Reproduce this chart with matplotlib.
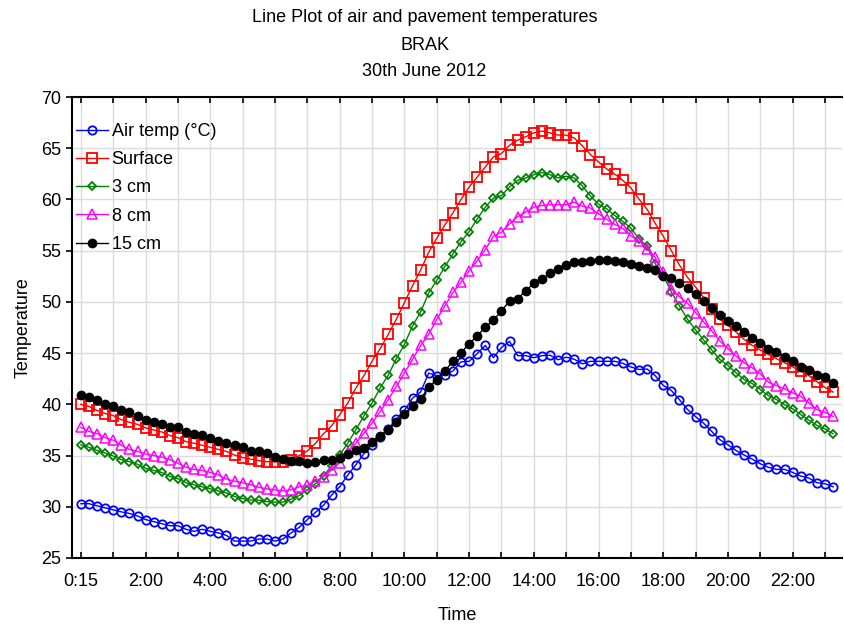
import numpy as np
import matplotlib
matplotlib.use("Agg")
import matplotlib.pyplot as plt

plt.rcParams['font.family'] = ['Liberation Sans', 'DejaVu Sans']

# 15-minute readings, 0:15 -> 23:30
air = [30.3, 30.3, 30.1, 29.9, 29.7, 29.5, 29.35, 29.1, 28.75, 28.55,
       28.35, 28.15, 28.15, 27.8, 27.6, 27.8, 27.6, 27.45, 27.2, 26.65,
       26.65, 26.65, 26.85, 26.85, 26.65, 26.85, 27.45, 28.0, 28.75, 29.45,
       30.15, 31.15, 31.95, 33.1, 34.1, 35.2, 36.05, 36.85, 37.6, 38.55,
       39.4, 40.6, 41.2, 43.05, 42.8, 42.9, 43.25, 44.15, 44.2, 44.95,
       45.75, 44.55, 45.55, 46.15, 44.75, 44.75, 44.55, 44.75, 44.8, 44.35,
       44.6, 44.4, 43.95, 44.2, 44.2, 44.2, 44.2, 44.0, 43.65, 43.4,
       43.45, 42.8, 41.85, 41.35, 40.45, 39.5, 38.8, 38.15, 37.35, 36.55,
       36.05, 35.5, 35.05, 34.65, 34.2, 33.85, 33.65, 33.65, 33.35, 33.0,
       32.8, 32.35, 32.25, 31.95]
surface = [40.0, 39.8, 39.4, 39.1, 38.9, 38.5, 38.25, 38.05, 37.7, 37.5,
           37.3, 36.95, 36.75, 36.35, 36.2, 36.0, 35.8, 35.6, 35.4, 35.05,
           34.8, 34.65, 34.5, 34.4, 34.4, 34.4, 34.6, 35.0, 35.45, 36.2,
           37.13, 37.91, 38.99, 40.13, 41.6, 42.81, 44.22, 45.43, 46.83, 48.3,
           49.94, 51.57, 53.1, 54.84, 56.21, 57.52, 58.7, 60.0, 61.21, 62.19,
           63.17, 64.16, 64.48, 65.3, 65.79, 66.12, 66.51, 66.67, 66.5, 66.28,
           66.28, 66.0, 65.23, 64.38, 63.66, 62.98, 62.47, 61.87, 61.12, 60.03,
           59.04, 57.67, 56.41, 55.0, 53.6, 52.39, 51.45, 50.4, 49.35, 48.3,
           47.72, 47.06, 46.34, 45.75, 45.3, 44.87, 44.45, 44.06, 43.66, 43.24,
           42.8, 42.2, 41.65, 41.2]
cm3 = [36.05, 35.8, 35.5, 35.25, 34.95, 34.6, 34.4, 34.15, 33.75, 33.55,
       33.35, 32.95, 32.75, 32.35, 32.15, 31.95, 31.75, 31.55, 31.35, 31.0,
       30.8, 30.65, 30.65, 30.5, 30.45, 30.45, 30.75, 31.1, 31.65, 32.25,
       33.0, 34.0, 35.07, 36.21, 37.52, 38.89, 40.13, 41.6, 42.85, 44.45,
       45.85, 47.65, 49.02, 50.87, 52.1, 53.45, 54.68, 55.88, 56.86, 58.1,
       59.25, 60.13, 60.39, 61.21, 61.87, 62.1, 62.42, 62.62, 62.42, 62.1,
       62.26, 62.1, 61.31, 60.33, 59.53, 59.09, 58.43, 57.86, 57.2, 56.18,
       55.41, 53.74, 52.55, 50.98, 49.61, 48.3, 47.26, 46.27, 45.3, 44.38,
       43.79, 43.07, 42.42, 42.03, 41.44, 40.85, 40.46, 39.97, 39.55, 39.0,
       38.45, 37.95, 37.59, 37.13]
cm8 = [37.75, 37.35, 37.15, 36.75, 36.5, 36.0, 35.6, 35.4, 35.15, 35.0,
       34.85, 34.6, 34.25, 33.85, 33.65, 33.55, 33.35, 33.1, 32.7, 32.5,
       32.35, 32.15, 31.9, 31.75, 31.65, 31.55, 31.65, 31.95, 32.1, 32.5,
       32.94, 33.6, 34.31, 35.3, 36.21, 37.19, 38.17, 39.31, 40.46, 41.76,
       43.07, 44.38, 45.75, 46.83, 48.3, 49.61, 50.92, 51.93, 53.04, 54.02,
       55.1, 56.41, 56.8, 57.62, 58.33, 58.76, 59.25, 59.41, 59.48, 59.48,
       59.48, 59.74, 59.35, 59.16, 58.6, 58.07, 57.57, 57.17, 56.44, 55.93,
       55.2, 54.35, 52.88, 51.3, 50.5, 49.87, 48.96, 48.04, 47.16, 46.18,
       45.43, 44.71, 44.06, 43.57, 42.98, 42.16, 41.83, 41.51, 41.12, 40.79,
       40.14, 39.48, 39.22, 38.82]
cm15 = [40.95, 40.75, 40.4, 40.05, 39.8, 39.4, 39.25, 38.85, 38.45, 38.25,
        38.05, 37.75, 37.75, 37.3, 37.15, 37.0, 36.75, 36.4, 36.2, 36.0,
        35.8, 35.45, 35.45, 35.25, 34.9, 34.65, 34.5, 34.45, 34.25, 34.4,
        34.58, 34.58, 34.74, 35.13, 35.56, 35.78, 36.37, 36.93, 37.52, 38.27,
        39.09, 39.8, 40.53, 41.67, 42.42, 43.24, 44.22, 45.04, 45.92, 46.67,
        47.55, 48.2, 49.12, 50.1, 50.33, 51.08, 51.83, 52.2, 52.81, 53.17,
        53.6, 53.89, 53.9, 53.97, 54.05, 54.05, 54.0, 53.9, 53.65, 53.5,
        53.32, 53.14, 52.55, 52.29, 51.83, 51.31, 50.75, 50.1, 49.45, 48.7,
        48.14, 47.65, 47.06, 46.51, 45.95, 45.36, 45.1, 44.65, 44.22, 43.66,
        43.4, 42.91, 42.68, 42.09]

tick_labels = ["0:15", "2:00", "4:00", "6:00", "8:00", "10:00",
               "12:00", "14:00", "16:00", "18:00", "20:00", "22:00"]

FS = 13

fig = plt.figure(figsize=(8.44, 6.26), dpi=100)
ax = fig.add_axes([72 / 844, 68 / 626, 770 / 844, 461 / 626])

x = np.arange(len(air))
ax.plot(x, air, color='#0000ff', lw=1, marker='o', ms=6, mfc='none', mew=1.3, label='Air temp (°C)')
ax.plot(x, surface, color='#ff0000', lw=1, marker='s', ms=6.5, mfc='none', mew=1.3, label='Surface')
ax.plot(x, cm3, color='#008000', lw=1, marker='D', ms=3.8, mfc='none', mew=1.3, label='3 cm')
ax.plot(x, cm8, color='#ff00ff', lw=1, marker='^', ms=6.8, mfc='none', mew=1.1, label='8 cm')
ax.plot(x, cm15, color='black', lw=1, marker='o', ms=6, mfc='black', mew=1, label='15 cm')

ax.set_xlim(-1.1, 94.1)
ax.set_ylim(25, 70)
ax.set_yticks(np.arange(25, 71, 5))
major = np.arange(0, 93, 4)
ax.set_xticks(major)
ax.set_xticklabels([tick_labels[i // 2] if i % 2 == 0 else '' for i in range(len(major))])
ax.grid(True, color='#dcdcdc', lw=1)
ax.set_axisbelow(True)

for s in ['left', 'bottom', 'top']:
    ax.spines[s].set_linewidth(1.5)
ax.spines['right'].set_visible(False)
ax.tick_params(axis='x', direction='in', top=True, length=4, width=1.2, labelsize=FS, pad=11)
ax.tick_params(axis='y', direction='out', length=4, width=1.2, labelsize=FS)

ax.set_xlabel('Time', fontsize=FS, labelpad=12)
ax.set_ylabel('Temperature', fontsize=FS, labelpad=7)

fig.text(0.503, 1 - 17 / 626, 'Line Plot of air and pavement temperatures', ha='center', va='center', fontsize=FS)
fig.text(0.503, 1 - 45 / 626, 'BRAK', ha='center', va='center', fontsize=FS)
fig.text(0.503, 1 - 72 / 626, '30th June 2012', ha='center', va='center', fontsize=FS)

ax.legend(loc='upper left', bbox_to_anchor=(-0.006, 0.963), frameon=False, fontsize=FS,
          handlelength=1.75, handletextpad=0.2, labelspacing=0.62, borderaxespad=0.1)

fig.savefig('out.png', dpi=100)
